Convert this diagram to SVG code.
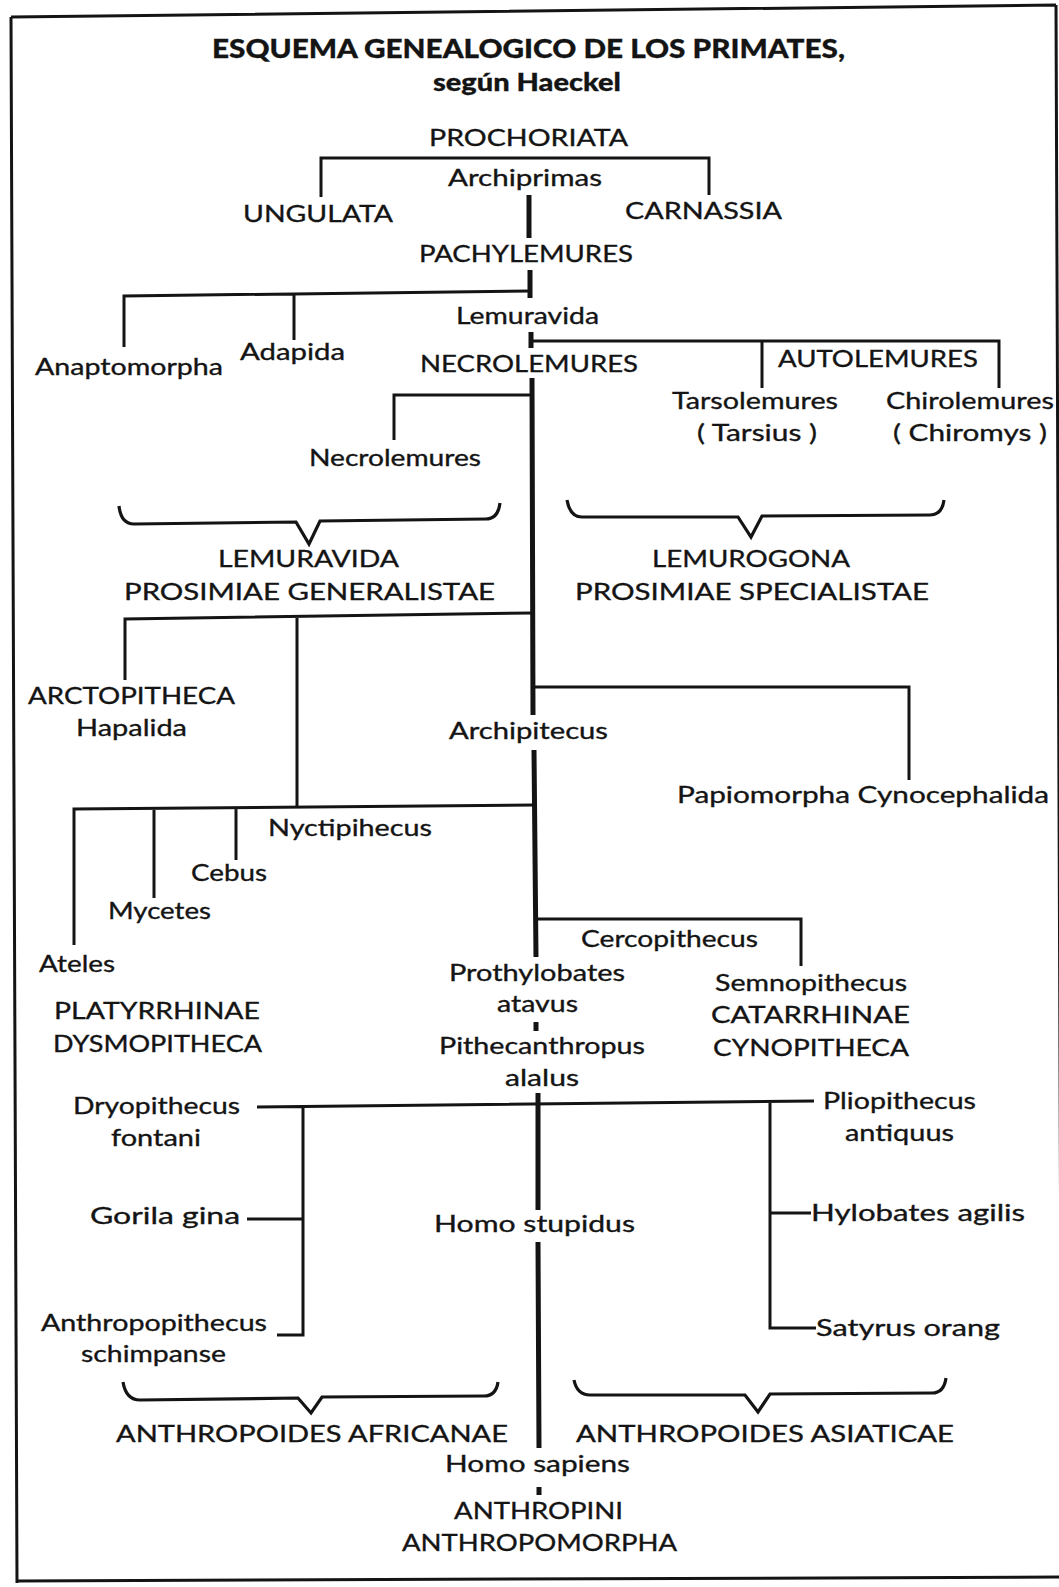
<svg xmlns="http://www.w3.org/2000/svg" width="1059" height="1587" viewBox="0 0 1059 1587">
<style>
text{font-family:Lato,"Open Sans","Liberation Sans",sans-serif;font-size:24px;fill:#141414;stroke:#141414;stroke-width:0.35}
.t{font-weight:900;font-size:27px;stroke-width:0.3}
.s{font-weight:900;font-size:24px;stroke-width:0.3}
.ln{fill:none;stroke:#141414;stroke-width:3;stroke-linejoin:miter}
.tr{fill:none;stroke:#141414;stroke-width:5}
.br{fill:none;stroke:#141414;stroke-width:3.2;stroke-linejoin:miter}
.bd{fill:none;stroke:#141414;stroke-width:3}
</style>
<rect width="1059" height="1587" fill="#fff"/>
<g id="border">
<path class="bd" d="M11 17 L1056 5 M1056 5 L1062 1590 M11 17 L17 1583 M17 1581 L1062 1577"/>
</g>
<g id="connectors">
<path class="ln" d="M321 197 V158 H709 V195"/>
<path class="tr" d="M529 195 V238 M530 270 V298 M531 332 V348 M532 378 L533 715 M534 750 L536 957 M536 1022 V1031 M538 1093 V1210 M538 1242 L539 1448 M539 1487 V1495"/>
<path class="ln" d="M124 347 V296 L530 291 M294 340 V294"/>
<path class="ln" d="M531 341 H999 V388 M762 341 V388"/>
<path class="ln" d="M531 395 H394 V440"/>
<path class="br" d="M119 506 Q121 524 134 524 L296 522 L309 544 L320 521 L486 519 Q498 519 500 503"/>
<path class="br" d="M567 500 Q570 517 582 517 L738 517 L751 537 L762 516 L930 515 Q942 515 944 500"/>
<path class="ln" d="M125 680 V619 L532 613 M297 617 V808"/>
<path class="ln" d="M533 687 H909 V780"/>
<path class="ln" d="M74 945 V809 L534 805 M154 808 V898 M236 807 V860"/>
<path class="ln" d="M536 919 H801 V966"/>
<path class="ln" d="M257 1107 L814 1101 M303 1106 V1335 H277 M247 1219 H303 M770 1102 V1328 H816 M770 1213 H811"/>
<path class="br" d="M123 1382 Q126 1400 140 1400 L298 1398 L311 1413 L322 1397 L484 1396 Q496 1396 498 1382"/>
<path class="br" d="M574 1380 Q577 1395 590 1395 L745 1395 L758 1412 L770 1394 L932 1393 Q944 1393 946 1378"/>
</g>
<g id="title"><text class="t" x="212" y="58" textLength="633" lengthAdjust="spacingAndGlyphs">ESQUEMA GENEALOGICO DE LOS PRIMATES,</text>
<text class="s" x="433" y="91" textLength="188" lengthAdjust="spacingAndGlyphs">según Haeckel</text></g>
<g id="n-prochoriata"><text x="429" y="146" textLength="199" lengthAdjust="spacingAndGlyphs">PROCHORIATA</text></g>
<g id="n-archiprimas"><text x="448" y="186" textLength="154" lengthAdjust="spacingAndGlyphs">Archiprimas</text></g>
<g id="n-ungulata"><text x="243" y="222" textLength="150" lengthAdjust="spacingAndGlyphs">UNGULATA</text></g>
<g id="n-carnassia"><text x="625" y="219" textLength="157" lengthAdjust="spacingAndGlyphs">CARNASSIA</text></g>
<g id="n-pachylemures"><text x="419" y="262" textLength="214" lengthAdjust="spacingAndGlyphs">PACHYLEMURES</text></g>
<g id="n-lemuravida"><text x="456" y="324" textLength="143" lengthAdjust="spacingAndGlyphs">Lemuravida</text></g>
<g id="n-anaptomorpha"><text x="35" y="375" textLength="188" lengthAdjust="spacingAndGlyphs">Anaptomorpha</text></g>
<g id="n-adapida"><text x="240" y="360" textLength="105" lengthAdjust="spacingAndGlyphs">Adapida</text></g>
<g id="n-necrolemures-top"><text x="420" y="372" textLength="218" lengthAdjust="spacingAndGlyphs">NECROLEMURES</text></g>
<g id="n-autolemures"><text x="778" y="367" textLength="200" lengthAdjust="spacingAndGlyphs">AUTOLEMURES</text></g>
<g id="n-tarsolemures"><text x="672" y="409" textLength="166" lengthAdjust="spacingAndGlyphs">Tarsolemures</text>
<text x="697" y="441" textLength="120" lengthAdjust="spacingAndGlyphs">( Tarsius )</text></g>
<g id="n-chirolemures"><text x="886" y="409" textLength="168" lengthAdjust="spacingAndGlyphs">Chirolemures</text>
<text x="893" y="441" textLength="154" lengthAdjust="spacingAndGlyphs">( Chiromys )</text></g>
<g id="n-necrolemures"><text x="309" y="466" textLength="172" lengthAdjust="spacingAndGlyphs">Necrolemures</text></g>
<g id="n-lemuravida-group"><text x="218" y="567" textLength="181" lengthAdjust="spacingAndGlyphs">LEMURAVIDA</text>
<text x="124" y="600" textLength="371" lengthAdjust="spacingAndGlyphs">PROSIMIAE GENERALISTAE</text></g>
<g id="n-lemurogona"><text x="652" y="567" textLength="198" lengthAdjust="spacingAndGlyphs">LEMUROGONA</text>
<text x="575" y="600" textLength="354" lengthAdjust="spacingAndGlyphs">PROSIMIAE SPECIALISTAE</text></g>
<g id="n-arctopitheca"><text x="28" y="704" textLength="207" lengthAdjust="spacingAndGlyphs">ARCTOPITHECA</text>
<text x="76" y="736" textLength="111" lengthAdjust="spacingAndGlyphs">Hapalida</text></g>
<g id="n-archipitecus"><text x="449" y="739" textLength="159" lengthAdjust="spacingAndGlyphs">Archipitecus</text></g>
<g id="n-papiomorpha"><text x="677" y="803" textLength="372" lengthAdjust="spacingAndGlyphs">Papiomorpha  Cynocephalida</text></g>
<g id="n-nyctipihecus"><text x="268" y="836" textLength="164" lengthAdjust="spacingAndGlyphs">Nyctipihecus</text></g>
<g id="n-cebus"><text x="191" y="881" textLength="76" lengthAdjust="spacingAndGlyphs">Cebus</text></g>
<g id="n-mycetes"><text x="108" y="919" textLength="103" lengthAdjust="spacingAndGlyphs">Mycetes</text></g>
<g id="n-ateles"><text x="39" y="972" textLength="76" lengthAdjust="spacingAndGlyphs">Ateles</text></g>
<g id="n-platyrrhinae"><text x="54" y="1019" textLength="206" lengthAdjust="spacingAndGlyphs">PLATYRRHINAE</text>
<text x="53" y="1052" textLength="209" lengthAdjust="spacingAndGlyphs">DYSMOPITHECA</text></g>
<g id="n-cercopithecus"><text x="581" y="947" textLength="177" lengthAdjust="spacingAndGlyphs">Cercopithecus</text></g>
<g id="n-prothylobates"><text x="449" y="981" textLength="176" lengthAdjust="spacingAndGlyphs">Prothylobates</text>
<text x="497" y="1012" textLength="81" lengthAdjust="spacingAndGlyphs">atavus</text></g>
<g id="n-pithecanthropus"><text x="439" y="1054" textLength="206" lengthAdjust="spacingAndGlyphs">Pithecanthropus</text>
<text x="505" y="1086" textLength="74" lengthAdjust="spacingAndGlyphs">alalus</text></g>
<g id="n-semnopithecus"><text x="715" y="991" textLength="192" lengthAdjust="spacingAndGlyphs">Semnopithecus</text>
<text x="711" y="1023" textLength="199" lengthAdjust="spacingAndGlyphs">CATARRHINAE</text>
<text x="713" y="1056" textLength="196" lengthAdjust="spacingAndGlyphs">CYNOPITHECA</text></g>
<g id="n-dryopithecus"><text x="73" y="1114" textLength="167" lengthAdjust="spacingAndGlyphs">Dryopithecus</text>
<text x="111" y="1146" textLength="90" lengthAdjust="spacingAndGlyphs">fontani</text></g>
<g id="n-pliopithecus"><text x="823" y="1109" textLength="153" lengthAdjust="spacingAndGlyphs">Pliopithecus</text>
<text x="845" y="1141" textLength="109" lengthAdjust="spacingAndGlyphs">antiquus</text></g>
<g id="n-gorila"><text x="90" y="1224" textLength="150" lengthAdjust="spacingAndGlyphs">Gorila  gina</text></g>
<g id="n-homo-stupidus"><text x="434" y="1232" textLength="201" lengthAdjust="spacingAndGlyphs">Homo  stupidus</text></g>
<g id="n-hylobates"><text x="811" y="1221" textLength="214" lengthAdjust="spacingAndGlyphs">Hylobates  agilis</text></g>
<g id="n-anthropopithecus"><text x="41" y="1331" textLength="226" lengthAdjust="spacingAndGlyphs">Anthropopithecus</text>
<text x="81" y="1362" textLength="145" lengthAdjust="spacingAndGlyphs">schimpanse</text></g>
<g id="n-satyrus"><text x="816" y="1336" textLength="184" lengthAdjust="spacingAndGlyphs">Satyrus  orang</text></g>
<g id="n-africanae"><text x="116" y="1442" textLength="392" lengthAdjust="spacingAndGlyphs">ANTHROPOIDES  AFRICANAE</text></g>
<g id="n-asiaticae"><text x="576" y="1442" textLength="378" lengthAdjust="spacingAndGlyphs">ANTHROPOIDES  ASIATICAE</text></g>
<g id="n-homo-sapiens"><text x="445" y="1472" textLength="185" lengthAdjust="spacingAndGlyphs">Homo  sapiens</text></g>
<g id="n-anthropini"><text x="454" y="1519" textLength="169" lengthAdjust="spacingAndGlyphs">ANTHROPINI</text>
<text x="402" y="1551" textLength="275" lengthAdjust="spacingAndGlyphs">ANTHROPOMORPHA</text></g>
</svg>
